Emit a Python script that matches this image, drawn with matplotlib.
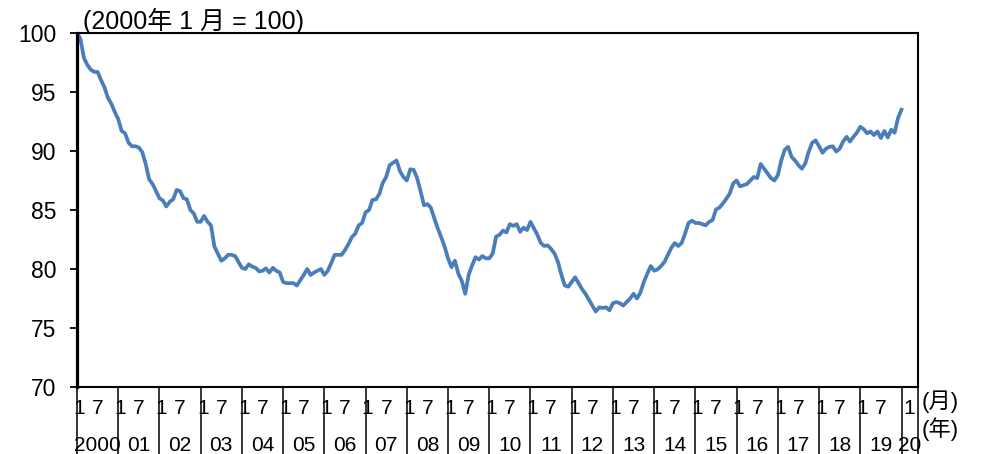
import numpy as np
import matplotlib
matplotlib.use("Agg")
import matplotlib.pyplot as plt

plt.rcParams['font.family'] = ['Liberation Sans', 'Noto Sans CJK JP']

# monthly index, Jan 2000 = 100, Jan 2000 .. Jan 2020
index_values = [
    100.0, 99.5, 97.9, 97.3, 96.9, 96.7, 96.7, 96.0, 95.4, 94.5, 94.0, 93.3,   # 2000
    92.7, 91.7, 91.5, 90.7, 90.4, 90.4, 90.3, 89.9, 88.9, 87.6, 87.2, 86.6,    # 2001
    86.0, 85.8, 85.3, 85.7, 85.9, 86.7, 86.6, 86.0, 85.9, 85.0, 84.7, 84.0,    # 2002
    84.0, 84.5, 84.0, 83.7, 81.9, 81.3, 80.7, 80.9, 81.2, 81.2, 81.1, 80.6,    # 2003
    80.1, 80.0, 80.4, 80.2, 80.1, 79.8, 79.85, 80.05, 79.7, 80.1, 79.85, 79.7, # 2004
    78.9, 78.8, 78.8, 78.8, 78.6, 79.05, 79.5, 80.0, 79.5, 79.7, 79.85, 80.0,  # 2005
    79.5, 79.85, 80.5, 81.2, 81.2, 81.2, 81.6, 82.1, 82.7, 83.0, 83.7, 83.9,   # 2006
    84.8, 85.0, 85.85, 85.9, 86.35, 87.3, 87.8, 88.8, 89.0, 89.2, 88.3, 87.8,  # 2007
    87.5, 88.45, 88.4, 87.7, 86.6, 85.4, 85.5, 85.2, 84.3, 83.45, 82.7, 81.9,  # 2008
    80.9, 80.15, 80.7, 79.6, 79.0, 77.9, 79.5, 80.3, 81.0, 80.8, 81.1, 80.9,   # 2009
    80.9, 81.3, 82.75, 82.9, 83.25, 83.1, 83.8, 83.65, 83.8, 83.15, 83.5, 83.3,  # 2010
    84.0, 83.45, 82.9, 82.2, 81.95, 82.0, 81.7, 81.3, 80.6, 79.5, 78.6, 78.5,  # 2011
    78.9, 79.3, 78.8, 78.3, 77.9, 77.4, 76.9, 76.4, 76.75, 76.7, 76.75, 76.5,  # 2012
    77.1, 77.2, 77.1, 76.9, 77.2, 77.5, 77.9, 77.5, 78.0, 78.9, 79.6, 80.25,   # 2013
    79.85, 79.97, 80.25, 80.6, 81.2, 81.8, 82.2, 81.95, 82.2, 83.0, 83.9, 84.1,  # 2014
    83.9, 83.9, 83.8, 83.7, 84.0, 84.15, 85.05, 85.2, 85.55, 85.95, 86.4, 87.25,  # 2015
    87.5, 87.0, 87.1, 87.2, 87.5, 87.8, 87.7, 88.9, 88.5, 88.1, 87.7, 87.5,    # 2016
    87.95, 89.2, 90.1, 90.35, 89.5, 89.2, 88.8, 88.5, 88.95, 89.95, 90.7, 90.9,  # 2017
    90.4, 89.85, 90.2, 90.35, 90.4, 89.95, 90.2, 90.8, 91.2, 90.8, 91.2, 91.55,  # 2018
    92.05, 91.85, 91.5, 91.65, 91.35, 91.65, 91.1, 91.7, 91.15, 91.8, 91.55, 92.8,  # 2019
    93.5,                                                                        # 2020
]

year_labels = ["2000", "01", "02", "03", "04", "05", "06", "07", "08", "09",
               "10", "11", "12", "13", "14", "15", "16", "17", "18", "19", "20"]
month_labels = ["1", "7"]
y_ticks = [70, 75, 80, 85, 90, 95, 100]

fig = plt.figure(figsize=(9.85, 4.54), dpi=100)
ax = fig.add_axes([77 / 985, 1 - 387 / 454, 841 / 985, 354 / 454])

x = np.arange(len(index_values))
ax.plot(x, index_values, color='#4a7ebb', lw=2.7, solid_joinstyle='round')

x_end = 244.8
ax.set_xlim(0, x_end)
ax.set_ylim(70, 100)

# year separators drawn as long ticks
sep = [12 * k for k in range(len(year_labels))] + [x_end]
ax.set_xticks(sep)
ax.set_xticklabels([])
ax.tick_params(axis='x', direction='out', length=52, width=1.1, color='black')

ax.set_yticks(y_ticks)
ax.set_yticklabels([str(v) for v in y_ticks], fontsize=16.5)
ax.tick_params(axis='y', direction='out', length=5, width=1.3, pad=10)

for side in ['top', 'right', 'bottom']:
    ax.spines[side].set_linewidth(1.5)
ax.spines['left'].set_linewidth(2.3)

fs = 15
trans = ax.get_xaxis_transform()
for k, yl in enumerate(year_labels):
    if k < len(year_labels) - 1:
        ax.text(12 * k + 0.6, -0.06, month_labels[0], transform=trans,
                ha='center', va='center', fontsize=fs)
        ax.text(12 * k + 6, -0.06, month_labels[1], transform=trans,
                ha='center', va='center', fontsize=fs)
        ax.text(12 * k + 6, -0.165, yl, transform=trans,
                ha='center', va='center', fontsize=fs)
    else:
        ax.text(12 * k + 2.2, -0.06, month_labels[0], transform=trans,
                ha='center', va='center', fontsize=fs)
        ax.text(12 * k + 2.4, -0.165, yl, transform=trans,
                ha='center', va='center', fontsize=fs)

fig.text(922 / 985, 1 - 402 / 454, "(月)", ha='left', va='center', fontsize=16)
fig.text(922 / 985, 1 - 429 / 454, "(年)", ha='left', va='center', fontsize=16)
fig.text(83 / 985, 1 - 21 / 454, "(2000年 1 月 = 100)", ha='left', va='center',
         fontsize=18)

fig.savefig("out.png", dpi=100)
